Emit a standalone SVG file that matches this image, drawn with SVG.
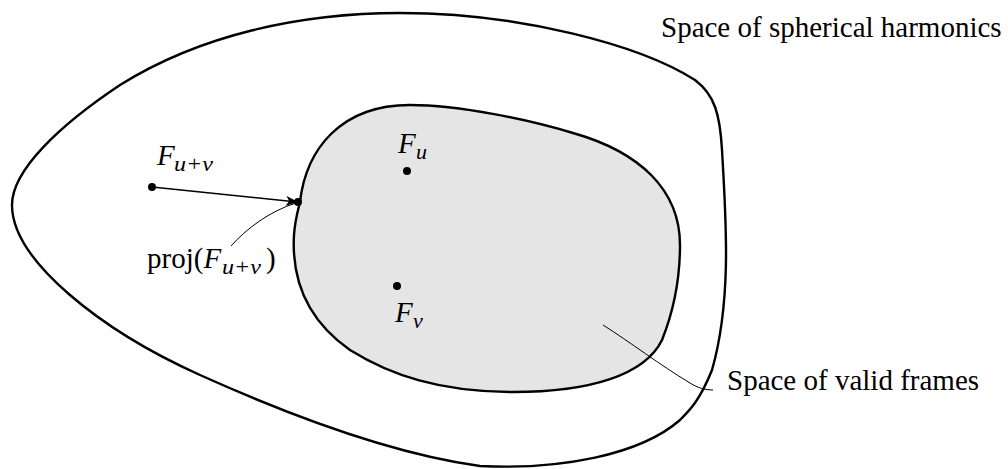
<svg xmlns="http://www.w3.org/2000/svg" width="1008" height="469" viewBox="0 0 1008 469">
<defs>
<style>
.region{stroke:#000;stroke-width:2.4;stroke-linejoin:round}
.outer{fill:none}
.inner{fill:#e5e5e5}
.dot{fill:#000}
.arrow{fill:none;stroke:#000;stroke-width:1.6}
.leader{fill:none;stroke:#000;stroke-width:1}
.lbl{font-family:"Liberation Serif","Times New Roman",serif;font-size:29px;fill:#000}
.m{font-style:italic}
.sub{font-size:22px}
</style>
<marker id="ah" viewBox="0 0 12 10" refX="11" refY="5" markerWidth="12" markerHeight="10" markerUnits="userSpaceOnUse" orient="auto">
<path d="M0,0 L12,5 L0,10 L3,5 Z" fill="#000"/>
</marker>
</defs>
<g id="space-spherical">
<path class="region outer" d="M12,205 C12,170 60,125 120,85 C200,35 300,13 400,13 C520,13 640,45 695,80 C715,95 720,115 722,150 C726,220 732,300 712,370 C700,400 690,410 680,420 C640,455 560,470 480,466 C400,455 300,420 200,375 C100,330 12,260 12,205 Z"/>
<text class="lbl" x="661" y="37">Space of spherical harmonics</text>
</g>
<g id="space-valid">
<path class="region inner" d="M300,202 C306,150 340,105 410,105 C460,105 530,120 573,133 C640,152 680,190 680,245 C680,290 670,320 662,340 C645,375 590,392 513,392 C440,392 390,375 350,350 C300,315 292,270 294,235 C295,220 298,210 300,202 Z"/>
<text class="lbl" x="727" y="390">Space of valid frames</text>
</g>
<g id="F-uv">
<circle class="dot" cx="152" cy="187" r="4"/>
<text class="lbl" x="157" y="165"><tspan class="m">F</tspan><tspan class="m sub" x="174" y="171" textLength="39" lengthAdjust="spacingAndGlyphs">u+v</tspan></text>
</g>
<g id="F-u">
<circle class="dot" cx="407" cy="171" r="4"/>
<text class="lbl" x="398" y="153"><tspan class="m">F</tspan><tspan class="m sub" x="416" y="159">u</tspan></text>
</g>
<g id="F-v">
<circle class="dot" cx="397" cy="286" r="4"/>
<text class="lbl" x="395" y="322"><tspan class="m">F</tspan><tspan class="m sub" x="413" y="328">v</tspan></text>
</g>
<g id="proj">
<circle class="dot" cx="298" cy="202" r="4"/>
<text class="lbl" x="147" y="268">proj(<tspan class="m">F</tspan><tspan class="m sub" x="222" y="274" textLength="39" lengthAdjust="spacingAndGlyphs">u+v</tspan><tspan x="266" y="268">)</tspan></text>
</g>
<g id="connectors">
<path class="arrow" d="M152,187 L297,202" marker-end="url(#ah)"/>
<path class="leader" d="M231,246 C246,229 270,211 296,203"/>
<path class="leader" d="M603,325 C630,342 660,365 690,383 C698,388 705,390 713,390"/>
</g>
</svg>
